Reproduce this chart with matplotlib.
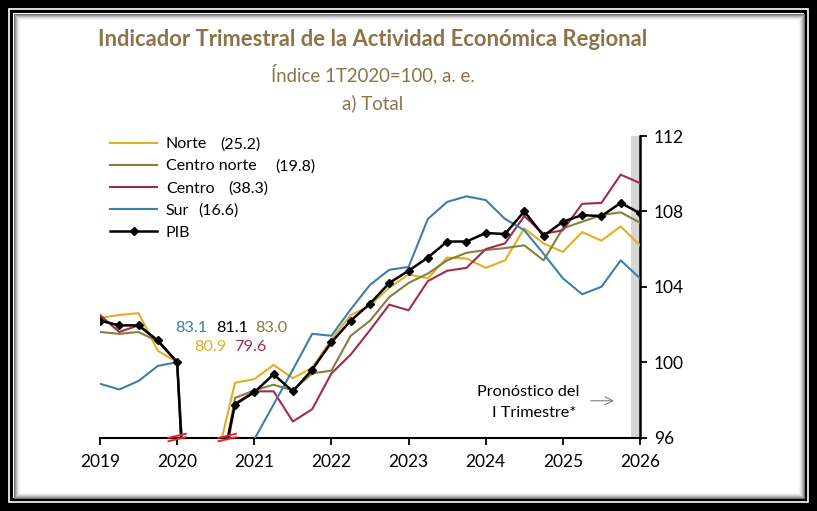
import matplotlib
matplotlib.use("Agg")
import matplotlib.pyplot as plt
from matplotlib.patches import Rectangle
import numpy as np

plt.rcParams['font.family'] = ['Lato', 'DejaVu Sans']

# ---------------- data ----------------
years = ["2019", "2020", "2021", "2022", "2023", "2024", "2025", "2026"]
norte = [102.35, 102.5, 102.6, 100.6, 100.0, 80.9, 94.6, 98.9, 99.1, 99.85, 99.15, 99.7,
         101.2, 102.5, 103.0, 103.95, 104.65, 104.45, 105.55, 105.5, 105.0, 105.4,
         107.1, 106.3, 105.85, 106.9, 106.45, 107.2, 106.2]
centro_norte = [101.6, 101.5, 101.6, 101.1, 100.0, 83.0, 92.5, 98.1, 98.5, 98.8, 98.5, 99.4,
                99.55, 101.4, 102.2, 103.45, 104.2, 104.7, 105.4, 105.8, 105.95, 106.05,
                106.2, 105.4, 107.1, 107.45, 107.8, 107.95, 107.4]
centro = [102.5, 101.6, 101.95, 101.1, 100.0, 79.6, 92.0, 97.8, 98.45, 98.45, 96.85, 97.5,
          99.4, 100.4, 101.7, 103.05, 102.75, 104.3, 104.85, 105.0, 106.0, 106.3,
          107.75, 106.8, 107.0, 108.4, 108.45, 109.95, 109.5]
sur = [98.85, 98.55, 99.0, 99.8, 100.0, 83.1, 89.5, 93.0, 95.9, 97.75, 99.6, 101.5,
       101.4, 102.8, 104.1, 104.9, 105.05, 107.6, 108.5, 108.8, 108.6, 107.6,
       107.0, 105.75, 104.45, 103.6, 104.0, 105.4, 104.45]
pib = [102.2, 101.95, 101.95, 101.15, 100.0, 81.1, 93.0, 97.75, 98.4, 99.35, 98.45, 99.6,
       101.05, 102.2, 103.1, 104.2, 104.85, 105.55, 106.4, 106.4, 106.85, 106.8,
       108.0, 106.7, 107.45, 107.8, 107.75, 108.45, 107.9]
names = ["Norte", "Centro norte", "Centro", "Sur", "PIB"]
weights = ["(25.2)", "(19.8)", "(38.3)", "(16.6)"]
q2_2020 = {"Sur": "83.1", "PIB": "81.1", "Centro norte": "83.0", "Norte": "80.9",
           "Centro": "79.6"}
yticks = [96, 100, 104, 108, 112]
q = np.arange(len(pib))

c_norte = "#E4AE24"
c_cn = "#857F3E"
c_centro = "#A12A52"
c_sur = "#3E7EAC"
c_title = "#8C7349"

W, H = 817, 511
fig = plt.figure(figsize=(W / 100, H / 100), dpi=100)
fig.patch.set_facecolor("black")

def fx(px):
    return px / W

def fy(py):
    return 1 - py / H

# frame
fig.patches.append(Rectangle((fx(9), fy(H - 9)), fx(W - 18), (H - 18) / H,
                             transform=fig.transFigure, fill=False,
                             edgecolor="white", lw=1.2, zorder=-5))
inset = 13
fig.patches.append(Rectangle((fx(inset), fy(H - inset)), fx(W - 2 * inset),
                             (H - 2 * inset) / H, transform=fig.transFigure,
                             facecolor="white", edgecolor="none", zorder=-5))
grays = [0.45, 0.6, 0.72, 0.82, 0.9, 0.96]
for k, g in enumerate(grays):
    i = inset + 0.5 + k
    fig.patches.append(Rectangle((fx(i), fy(H - i)), fx(W - 2 * i), (H - 2 * i) / H,
                                 transform=fig.transFigure, fill=False,
                                 edgecolor=(g, g, g), lw=0.75, zorder=-4))

# axes
left, right, top, bottom = 100, 640, 136, 437.5
ax = fig.add_axes([fx(left), fy(bottom), fx(right - left), (bottom - top) / H])
ax.set_zorder(2)
ax.set_facecolor("none")
ax.set_xlim(0, 28)
ax.set_ylim(96, 112)

ax.axvspan(27.55, 28, color="#D6D6D6", lw=0, zorder=1)

lw = 1.5
ax.plot(q, norte, color=c_norte, lw=lw, label=names[0], zorder=3)
ax.plot(q, centro_norte, color=c_cn, lw=lw, label=names[1], zorder=3)
ax.plot(q, centro, color=c_centro, lw=lw, label=names[2], zorder=3)
ax.plot(q, sur, color=c_sur, lw=lw, label=names[3], zorder=3)
ax.plot(q, pib, color="black", lw=1.8, marker="D", markersize=4.5, label=names[4], zorder=4)

for s in ["top", "left"]:
    ax.spines[s].set_visible(False)
ax.spines["bottom"].set_linewidth(1.5)
ax.spines["right"].set_linewidth(1.8)
ax.yaxis.tick_right()
ax.set_yticks(yticks)
ax.set_yticklabels([str(v) for v in yticks])
ax.set_xticks(np.arange(0, 29, 4))
ax.set_xticklabels(years)
ax.tick_params(axis="both", direction="out", length=5, width=1.3, labelsize=12.5,
               colors="black")
ax.tick_params(axis="x", pad=7)
ax.tick_params(axis="y", pad=5)

# axis breaks
for xb in [4.0, 6.6]:
    for dy in [-0.09, 0.09]:
        ax.plot([xb - 0.5, xb + 0.5], [96 + dy - 0.12, 96 + dy + 0.12], color="#E8242A",
                lw=1.4, clip_on=False, zorder=6, solid_capstyle="butt")

# annotations for 2T2020 values
fs_a = 11.8
ax.text(4.75, 101.81, q2_2020["Sur"], color=c_sur, fontsize=fs_a, ha="center", va="center")
ax.text(6.84, 101.81, q2_2020["PIB"], color="black", fontsize=fs_a, ha="center", va="center")
ax.text(8.89, 101.81, q2_2020["Centro norte"], color=c_cn, fontsize=fs_a, ha="center", va="center")
ax.text(5.73, 100.8, q2_2020["Norte"], color=c_norte, fontsize=fs_a, ha="center", va="center")
ax.text(7.80, 100.8, q2_2020["Centro"], color=c_centro, fontsize=fs_a, ha="center", va="center")

ax.text(22.19, 98.42, "Pronóstico del", fontsize=11.7, ha="center", va="center")
ax.text(22.53, 97.3, "I Trimestre*", fontsize=11.7, ha="center", va="center")
ax.annotate("", xy=(26.8, 97.95), xytext=(25.3, 97.95),
            arrowprops=dict(arrowstyle="->", color="#7F7F7F", lw=0.8,
                            mutation_scale=14))

fs_leg = 11.5
leg = ax.legend(loc="upper left", bbox_to_anchor=(fx(110), fy(137)),
                bbox_transform=fig.transFigure, frameon=False, fontsize=fs_leg,
                handlelength=2.95, handletextpad=0.55, labelspacing=0.5,
                borderpad=0, borderaxespad=0)

# weights next to the legend names
fig.canvas.draw()
renderer = fig.canvas.get_renderer()
weight_x = [220, 275, 228, 198]
for t, w, xs in zip(leg.get_texts(), weights, weight_x):
    bb = t.get_window_extent(renderer)
    yc = (bb.y0 + bb.y1) / 2
    fig.text(fx(xs), yc / H, w, fontsize=fs_leg, ha="left", va="center")

fig.text(fx(372.5), fy(39), "Indicador Trimestral de la Actividad Económica Regional",
         fontsize=15.8, fontweight="bold", color=c_title, ha="center", va="center")
fig.text(fx(372.5), fy(74), "Índice 1T2020=100, a. e.", fontsize=13.4, color=c_title,
         ha="center", va="center")
fig.text(fx(372.5), fy(103), "a) Total", fontsize=13.4, color=c_title,
         ha="center", va="center")

fig.savefig("out.png", dpi=100, facecolor=fig.get_facecolor())
